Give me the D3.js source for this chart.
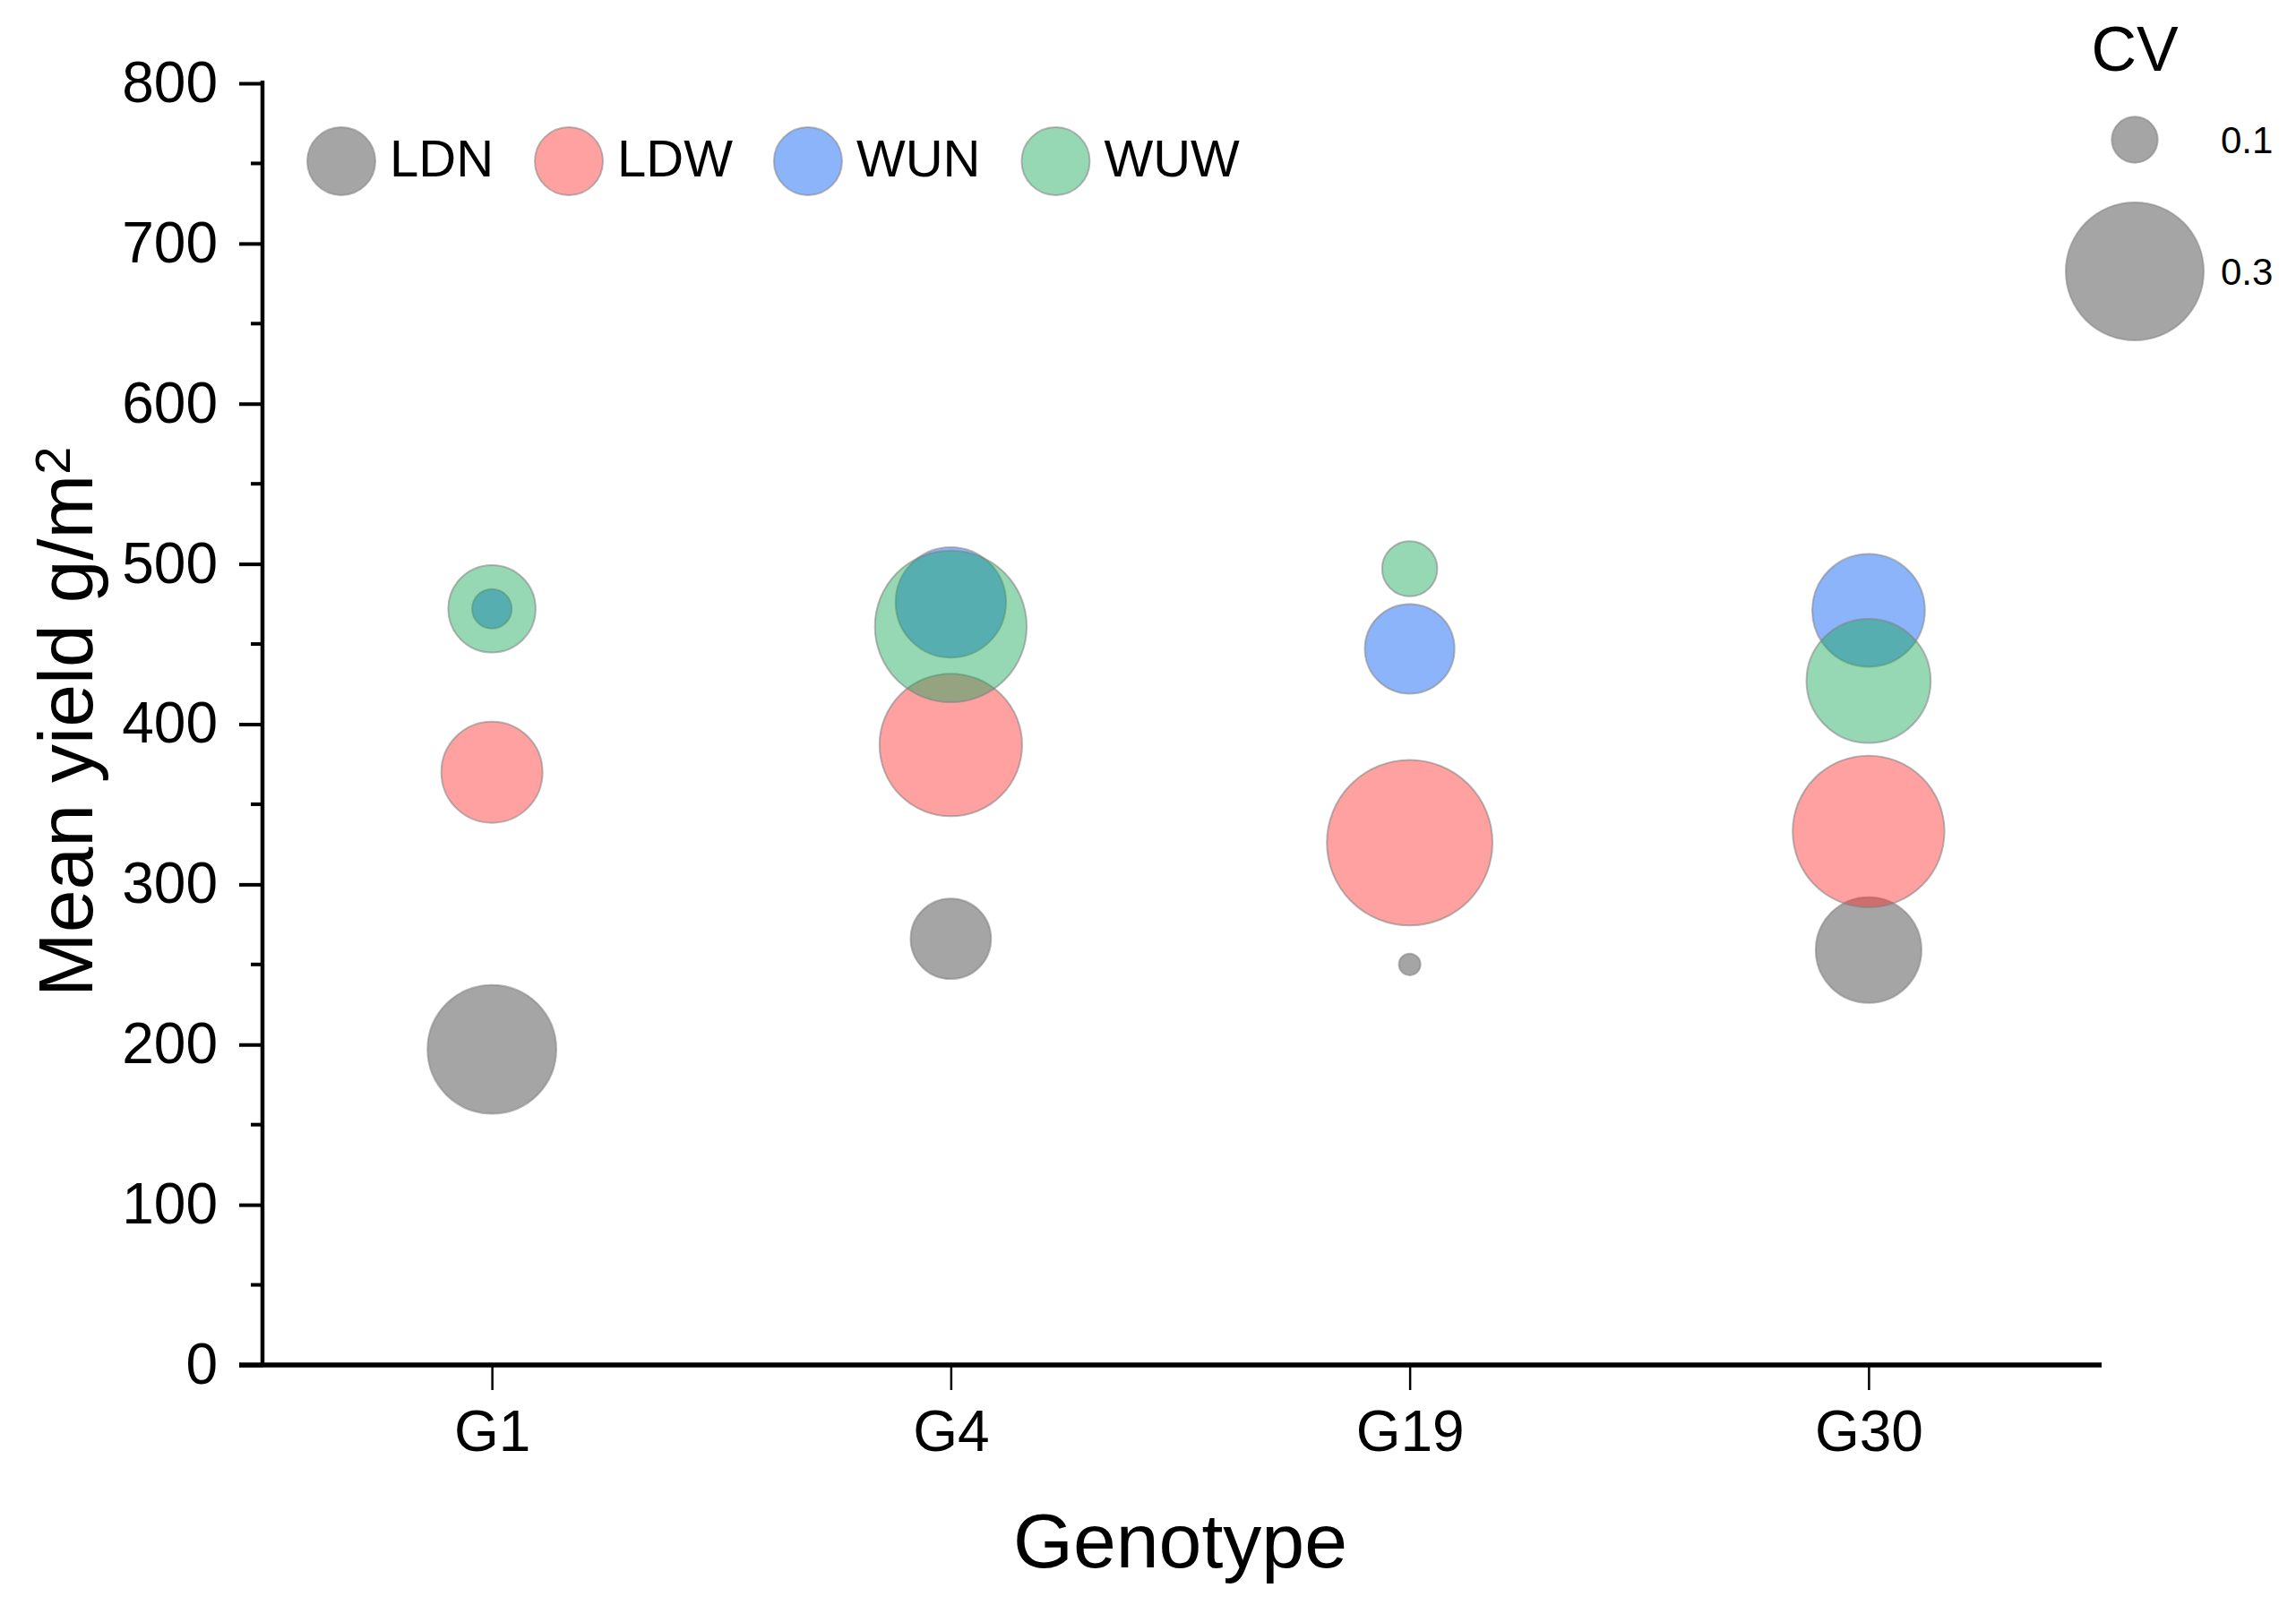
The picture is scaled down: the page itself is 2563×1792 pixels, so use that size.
<!DOCTYPE html>
<html>
<head>
<meta charset="utf-8">
<script src="https://cdn.jsdelivr.net/npm/d3@7"></script>
<style>
  html, body { margin: 0; padding: 0; background: #ffffff; }
  svg { display: block; }
  text { font-family: "Liberation Sans", Arial, sans-serif; fill: #000; }
</style>
</head>
<body>
<svg id="chart" width="2563" height="1792"></svg>
<script>
// ---------------- data ----------------
const genotypes = ["G1", "G4", "G19", "G30"];
const treatments = ["LDN", "LDW", "WUN", "WUW"];
// mean yield (g/m2) per treatment, ordered as genotypes
const yieldLDN = [197, 266, 250, 259];
const yieldLDW = [370, 387, 326, 333];
const yieldWUN = [472, 476, 447, 471];
const yieldWUW = [472, 461, 497, 427];
// coefficient of variation per treatment, ordered as genotypes
const cvLDN = [0.28, 0.175, 0.047, 0.23];
const cvLDW = [0.22, 0.31, 0.36, 0.33];
const cvWUN = [0.086, 0.24, 0.195, 0.245];
const cvWUW = [0.19, 0.33, 0.12, 0.27];
const yTicks = [0, 100, 200, 300, 400, 500, 600, 700, 800];
const cvLegendValues = [0.1, 0.3];

const seriesColors = {LDN: "#373737", LDW: "#ff2f2f", WUN: "#0059f4", WUW: "#16a759"};
const fillOpacity = 0.45;

// ---------------- layout ----------------
const svg = d3.select("#chart");
const W = 2563, H = 1792;
const plot = {left: 293, right: 2342, top: 93, bottom: 1524};
const majorTick = 26, minorTick = 13;

const x = d3.scaleLinear().domain([0.5, genotypes.length + 0.5]).range([plot.left, plot.right]);
const y = d3.scaleLinear().domain([0, 800]).range([plot.bottom, plot.top]);
const r = d3.scaleLinear().domain([0, 0.3]).range([0, 77]);

svg.append("rect").attr("width", W).attr("height", H).attr("fill", "#ffffff");

// ---------------- points ----------------
const yields = {LDN: yieldLDN, LDW: yieldLDW, WUN: yieldWUN, WUW: yieldWUW};
const cvs = {LDN: cvLDN, LDW: cvLDW, WUN: cvWUN, WUW: cvWUW};
const points = [];
treatments.forEach(t => {
  genotypes.forEach((g, i) => {
    points.push({t, g, i, v: yields[t][i], cv: cvs[t][i]});
  });
});

svg.append("g").selectAll("circle").data(points).join("circle")
  .attr("cx", d => x(d.i + 1))
  .attr("cy", d => y(d.v))
  .attr("r", d => r(d.cv))
  .attr("fill", d => seriesColors[d.t])
  .attr("fill-opacity", fillOpacity)
  .attr("stroke", "#808080")
  .attr("stroke-opacity", 0.55)
  .attr("stroke-width", 2);

// ---------------- axes ----------------
const yAxis = d3.axisLeft(y).tickValues(yTicks).tickSize(majorTick).tickPadding(24).tickSizeOuter(0);
const gy = svg.append("g").attr("transform", `translate(${plot.left},0)`).call(yAxis);
gy.select(".domain").remove();
gy.selectAll(".tick line").attr("stroke", "#000").attr("stroke-width", 4);
gy.selectAll(".tick text").style("font-size", "64px").style("font-family", "'Liberation Sans', Arial, sans-serif").attr("fill", "#000");

// minor ticks
const minorVals = d3.range(50, 800, 100);
svg.append("g").selectAll("line").data(minorVals).join("line")
  .attr("x1", plot.left - minorTick).attr("x2", plot.left)
  .attr("y1", d => y(d)).attr("y2", d => y(d))
  .attr("stroke", "#000").attr("stroke-width", 4);

const xAxis = d3.axisBottom(x).tickValues(genotypes.map((g, i) => i + 1))
  .tickFormat((d) => genotypes[d - 1]).tickSize(28).tickPadding(23).tickSizeOuter(0);
const gx = svg.append("g").attr("transform", `translate(0,${plot.bottom})`).call(xAxis);
gx.select(".domain").remove();
gx.selectAll(".tick line").attr("stroke", "#000").attr("stroke-width", 2.5);
gx.selectAll(".tick text").style("font-size", "64px").style("font-family", "'Liberation Sans', Arial, sans-serif").attr("fill", "#000");

// axis lines
svg.append("line")
  .attr("x1", plot.left).attr("x2", plot.left)
  .attr("y1", y(800) - 3).attr("y2", plot.bottom)
  .attr("stroke", "#000").attr("stroke-width", 4.5);
svg.append("line")
  .attr("x1", plot.left - majorTick).attr("x2", plot.right + 4)
  .attr("y1", plot.bottom).attr("y2", plot.bottom)
  .attr("stroke", "#000").attr("stroke-width", 5.5);

// ---------------- titles ----------------
svg.append("text")
  .attr("x", (plot.left + plot.right) / 2).attr("y", 1750)
  .attr("text-anchor", "middle")
  .style("font-size", "86px")
  .text("Genotype");

const yt = svg.append("text")
  .attr("transform", "translate(103,1113) rotate(-90)")
  .attr("text-anchor", "start")
  .style("font-size", "86px");
yt.append("tspan").text("Mean yield g/m");
yt.append("tspan").attr("dy", "-0.45em").style("font-size", "56px").text("2");

// ---------------- series legend ----------------
const legR = 38, legTextOffset = 54, legGap = 46, legY = 180;
let cursor = 343;
const leg = svg.append("g");
treatments.forEach(t => {
  const cx = cursor + legR;
  leg.append("circle")
    .attr("cx", cx).attr("cy", legY).attr("r", legR)
    .attr("fill", seriesColors[t]).attr("fill-opacity", fillOpacity)
    .attr("stroke", "#808080").attr("stroke-opacity", 0.55).attr("stroke-width", 2);
  const tx = leg.append("text")
    .attr("x", cx + legTextOffset).attr("y", legY + 17)
    .style("font-size", "58px")
    .text(t);
  cursor = cx + legTextOffset + tx.node().getComputedTextLength() + legGap;
});

// ---------------- CV legend ----------------
const cvx = 2383;
svg.append("text").attr("x", cvx).attr("y", 79).attr("text-anchor", "middle")
  .style("font-size", "70px").text("CV");
const cvLegY = [156, 303];
cvLegendValues.forEach((v, k) => {
  svg.append("circle")
    .attr("cx", cvx).attr("cy", cvLegY[k]).attr("r", r(v))
    .attr("fill", seriesColors.LDN).attr("fill-opacity", fillOpacity)
    .attr("stroke", "#808080").attr("stroke-opacity", 0.55).attr("stroke-width", 2);
  svg.append("text")
    .attr("x", 2479).attr("y", cvLegY[k] + 15)
    .style("font-size", "42px")
    .text(d3.format(".1f")(v));
});
</script>
</body>
</html>
